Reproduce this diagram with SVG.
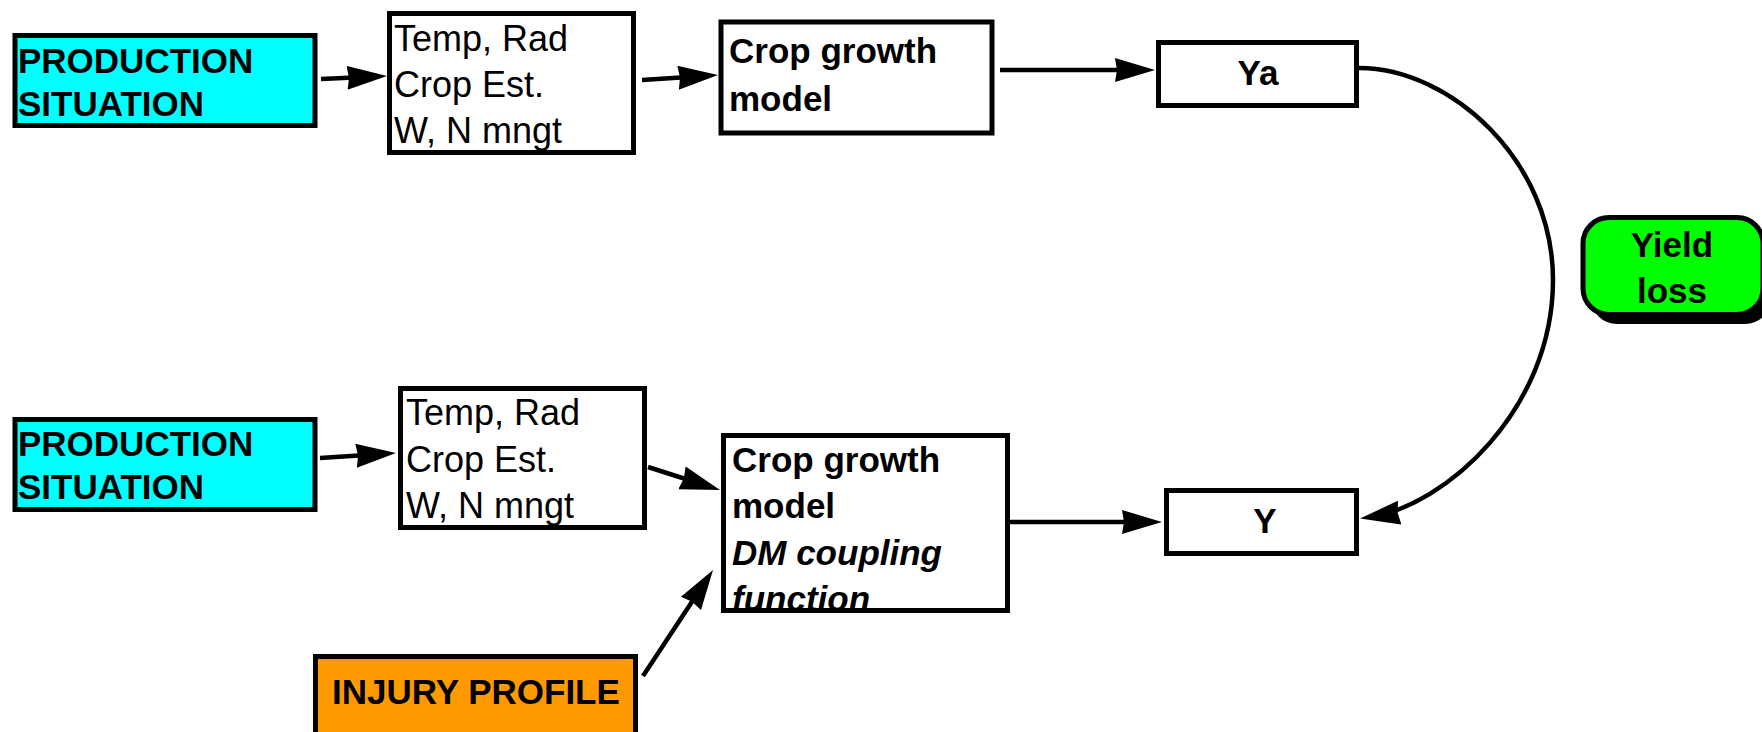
<svg xmlns="http://www.w3.org/2000/svg" width="1762" height="732" viewBox="0 0 1762 732">
<style>
  .box { stroke: #000; stroke-width: 5; }
  .white { fill: #fff; }
  .cyan { fill: #00ffff; }
  .orange { fill: #ff9900; }
  .green { fill: #00ff00; }
  .t { font-family: "Liberation Sans", Arial, sans-serif; font-size: 36px; fill: #000; }
  .b { font-weight: bold; font-size: 35px; }
  .i { font-style: italic; }
  .c { text-anchor: middle; }
  .conn { fill: none; stroke: #000; stroke-width: 4.5; }
</style>
<defs>
  <marker id="ah" markerUnits="userSpaceOnUse" markerWidth="44" markerHeight="26" refX="30" refY="12" orient="auto">
    <path d="M0,0 L40,12 L0,24 L2,12 Z" fill="#000"/>
  </marker>
  <clipPath id="cgm2clip"><rect x="721" y="433" width="289" height="178"/></clipPath>
</defs>
<rect width="1762" height="732" fill="#fff"/>

<g id="ps1">
  <rect class="box cyan" x="15" y="35.5" width="300" height="90"/>
  <text class="t b" x="18" y="73">PRODUCTION</text>
  <text class="t b" x="18" y="116">SITUATION</text>
</g>
<g id="in1">
  <rect class="box white" x="389.5" y="13.5" width="244" height="139"/>
  <text class="t" x="394" y="51">Temp, Rad</text>
  <text class="t" x="394" y="97">Crop Est.</text>
  <text class="t" x="394" y="143">W, N mngt</text>
</g>
<g id="cgm1">
  <rect class="box white" x="721" y="22" width="271" height="111"/>
  <text class="t b" x="729" y="63">Crop growth</text>
  <text class="t b" x="729" y="111">model</text>
</g>
<g id="ya">
  <rect class="box white" x="1158.5" y="42.5" width="198" height="63"/>
  <text class="t b c" x="1258" y="85">Ya</text>
</g>
<g id="yieldloss">
  <rect x="1591" y="227" width="180" height="97" rx="26" fill="#000"/>
  <rect class="box green" x="1583" y="217.5" width="180" height="97" rx="26"/>
  <text class="t b c" x="1672" y="257">Yield</text>
  <text class="t b c" x="1672" y="303">loss</text>
</g>
<g id="ps2">
  <rect class="box cyan" x="15" y="419.5" width="300" height="90"/>
  <text class="t b" x="18" y="456">PRODUCTION</text>
  <text class="t b" x="18" y="499">SITUATION</text>
</g>
<g id="in2">
  <rect class="box white" x="400.5" y="388.5" width="244" height="139"/>
  <text class="t" x="406" y="425">Temp, Rad</text>
  <text class="t" x="406" y="472">Crop Est.</text>
  <text class="t" x="406" y="518">W, N mngt</text>
</g>
<g id="cgm2">
  <rect class="white" x="721" y="433" width="289" height="178"/>
  <g clip-path="url(#cgm2clip)">
    <text class="t b" x="732" y="472">Crop growth</text>
    <text class="t b" x="732" y="518">model</text>
    <text class="t b i" x="732" y="565">DM coupling</text>
    <text class="t b i" x="732" y="611">function</text>
  </g>
  <rect class="box" fill="none" x="723.5" y="435.5" width="284" height="175"/>
</g>
<g id="y">
  <rect class="box white" x="1166.5" y="490.5" width="190" height="63"/>
  <text class="t b c" x="1265" y="533">Y</text>
</g>
<g id="injury">
  <rect class="box orange" x="315.5" y="656.5" width="320" height="100"/>
  <text class="t b" x="332" y="704">INJURY PROFILE</text>
</g>

<g id="connectors">
  <path class="conn" d="M321,79 L377,76.5" marker-end="url(#ah)"/>
  <path class="conn" d="M642,80 L708,75.7" marker-end="url(#ah)"/>
  <path class="conn" d="M1000,70 L1145,70" marker-end="url(#ah)"/>
  <path class="conn" d="M320,458 L386,453.7" marker-end="url(#ah)"/>
  <path class="conn" d="M648,467 L710.5,487" marker-end="url(#ah)"/>
  <path class="conn" d="M1010,522 L1152,522" marker-end="url(#ah)"/>
  <path class="conn" d="M643,676 L707.5,578.3" marker-end="url(#ah)"/>
  <path class="conn" d="M1359,68 C1450,68 1553,160 1553,280 C1553,410 1445,506 1370,517" marker-end="url(#ah)"/>
</g>
</svg>
